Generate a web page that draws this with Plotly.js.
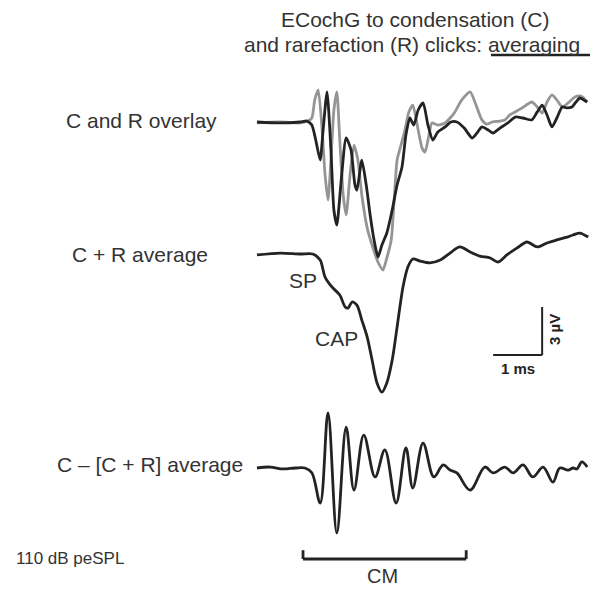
<!DOCTYPE html>
<html>
<head>
<meta charset="utf-8">
<script src="https://cdn.plot.ly/plotly-3.0.1.min.js"></script>
<style>html,body{margin:0;padding:0;background:#fff;}#chart{width:600px;height:590px;}</style>
</head>
<body>
<div id="chart"></div>
<script>
// ---- Data (time in ms from trace start, amplitude in µV relative to each trace's baseline) ----
const overlayC_t = [0.04,0.51,0.92,1.06,1.16,1.24,1.33,1.39,1.47,1.55,1.61,1.67,1.76,1.86,1.96,2.04,2.08,2.18,2.27,2.35,2.43,2.51,2.59,2.69,2.80,2.90,3.00,3.08,3.16,3.24,3.33,3.43,3.53,3.63,3.73,3.88,4.00,4.12,4.27,4.43,4.53,4.63,4.76,4.86,5.00,5.16,5.31,5.47,5.65,5.76,5.86,5.96,6.06,6.16,6.27,6.37,6.47,6.55,6.63,6.71,6.78];
const overlayC_v = [0.0,-0.06,0,0.06,-0.19,-1.13,-2.38,-0.5,1.88,-1.75,-5.5,-6.44,-3.63,-1.0,-1.75,-3.94,-4.25,-2.38,-3.94,-5.81,-7.38,-8.44,-7.69,-6.94,-5.5,-3.94,-2.81,-0.81,0.25,-0.19,0.75,1.19,-0.19,-1.13,-0.63,-0.31,0,0,-0.38,-1.0,-0.69,-0.31,-0.5,-0.69,-0.38,-0.06,0.31,0.25,0.13,0.63,1.06,0.44,-0.31,0.25,0.94,0.88,0.94,1.25,1.5,1.38,1.25];

const overlayR_t = [0.04,0.51,0.92,1.08,1.16,1.22,1.29,1.37,1.43,1.49,1.55,1.61,1.67,1.73,1.80,1.86,1.94,2.02,2.10,2.18,2.29,2.39,2.51,2.61,2.69,2.78,2.84,2.90,2.98,3.06,3.14,3.22,3.33,3.41,3.47,3.55,3.61,3.73,3.88,4.00,4.08,4.22,4.39,4.51,4.63,4.73,4.84,5.00,5.10,5.20,5.31,5.45,5.65,5.76,5.86,5.96,6.06,6.16,6.27,6.39,6.53,6.63,6.69,6.78];
const overlayR_v = [-0.06,0,-0.06,0.06,0.25,1.38,2.0,-0.5,-3.31,-4.88,-2.38,0.75,1.88,-1.13,-4.56,-5.81,-3.31,-1.44,-2.38,-4.56,-6.63,-7.69,-8.75,-9.25,-8.5,-7.38,-4.88,-2.38,-1.44,-0.5,0.63,1.06,-0.5,-1.63,-1.88,-0.81,-0.06,-0.19,-0.06,0.31,0.63,1.38,1.88,1.06,0.13,-0.13,0,0.06,0.13,0.44,0.63,0.88,1.25,0.94,0.56,1.25,1.69,1.38,0.94,1.19,1.56,1.63,1.56,1.25];

const sum_t = [0.04,0.51,0.92,1.18,1.33,1.43,1.57,1.73,1.84,1.90,1.98,2.08,2.18,2.29,2.39,2.49,2.59,2.69,2.80,2.90,3.02,3.12,3.22,3.37,3.57,3.78,3.98,4.18,4.39,4.59,4.80,4.96,5.14,5.35,5.55,5.76,5.96,6.16,6.37,6.49,6.63,6.80];
const sum_v = [-0.06,0.06,0,0,-0.38,-1.44,-2.06,-2.56,-3.31,-3.38,-3.0,-3.19,-4.13,-5.19,-6.63,-8.06,-8.63,-8.06,-6.63,-4.56,-2.06,-0.81,-0.31,-0.44,-0.56,-0.38,0.06,0.44,0.13,-0.13,-0.25,-0.5,-0.06,0.38,0.75,0.44,0.69,0.88,1.06,1.19,1.31,1.06];

const diff_t = [0.04,0.31,0.57,0.82,1.02,1.16,1.33,1.49,1.67,1.86,2.02,2.22,2.45,2.65,2.88,3.08,3.22,3.43,3.65,3.84,3.98,4.12,4.39,4.69,4.86,5.10,5.27,5.47,5.67,5.88,6.08,6.22,6.39,6.49,6.57,6.67,6.78];
const diff_v = [0,0.06,-0.06,0,0,-0.3,-2.19,3.44,-4.06,2.56,-1.38,2.06,-0.56,1.13,-2.19,1.25,-1.25,1.56,-0.56,0.19,-0.13,-0.31,-1.38,0.06,-0.31,0.06,-0.31,0.19,-0.56,0.06,-0.88,0,-0.13,0,-0.06,0.38,0.06];

const traceLabels = ["C and R overlay", "C + R average", "C \u2013 [C + R] average"];
const scaleBarMs = 1;     // ms
const scaleBarUV = 3;     // µV
const cmWindow = [0.98, 4.31]; // ms, extent of CM bracket

// ---- Layout helpers ----
const W = 600, H = 590;
const pxPerMs = 49, pxPerUV = 16, t0px = 255;
const xRange = [-t0px / pxPerMs, (W - t0px) / pxPerMs];
const yRange = [0, H / pxPerUV];
const base = { overlay: (H - 122) / pxPerUV, sum: (H - 254) / pxPerUV, diff: (H - 468) / pxPerUV };
const off = (arr, b) => arr.map(v => v + b);
const px = x => x / W, py = y => 1 - y / H;

const black = '#232323', gray = '#959595', lw = 2.8;
const lineOpts = (c, s) => ({ color: c, width: lw, shape: 'spline', smoothing: s });

const traces = [
  { x: overlayR_t, y: off(overlayR_v, base.overlay), mode: 'lines', line: lineOpts(gray, 0.6), name: 'R', hoverinfo: 'skip' },
  { x: overlayC_t, y: off(overlayC_v, base.overlay), mode: 'lines', line: lineOpts(black, 0.6), name: 'C', hoverinfo: 'skip' },
  { x: sum_t, y: off(sum_v, base.sum), mode: 'lines', line: lineOpts(black, 0.8), name: 'C+R', hoverinfo: 'skip' },
  { x: diff_t, y: off(diff_v, base.diff), mode: 'lines', line: lineOpts(black, 1.0), name: 'C-[C+R]', hoverinfo: 'skip' }
];

const sbT = 4.86, sbV = (H - 355) / pxPerUV;
const cmV = (H - 559) / pxPerUV, cmTick = 0.55;
const shapes = [
  { type: 'line', xref: 'x', yref: 'y', x0: sbT, x1: sbT + scaleBarMs, y0: sbV, y1: sbV, line: { color: black, width: 2 } },
  { type: 'line', xref: 'x', yref: 'y', x0: sbT + scaleBarMs, x1: sbT + scaleBarMs, y0: sbV, y1: sbV + scaleBarUV, line: { color: black, width: 2 } },
  { type: 'line', xref: 'x', yref: 'y', x0: cmWindow[0], x1: cmWindow[1], y0: cmV, y1: cmV, line: { color: black, width: 2.8 } },
  { type: 'line', xref: 'x', yref: 'y', x0: cmWindow[0], x1: cmWindow[0], y0: cmV, y1: cmV + cmTick, line: { color: black, width: 2.8 } },
  { type: 'line', xref: 'x', yref: 'y', x0: cmWindow[1], x1: cmWindow[1], y0: cmV, y1: cmV + cmTick, line: { color: black, width: 2.8 } },
  { type: 'line', xref: 'paper', yref: 'paper', x0: px(491), x1: px(590), y0: py(55), y1: py(55), line: { color: black, width: 2.5 } }
];

const f = (s, c, extra) => Object.assign({ family: 'Liberation Sans, Arial, sans-serif', size: s, color: c || '#333' }, extra || {});
const ann = (text, x, y, opts) => Object.assign({ text: text, xref: 'paper', yref: 'paper', x: px(x), y: py(y), showarrow: false, xanchor: 'center', yanchor: 'middle', font: f(21) }, opts || {});

const annotations = [
  ann('ECochG to condensation (C)', 415, 19, { font: f(21) }),
  ann('and rarefaction (R) clicks: averaging', 412, 44, { font: f(21) }),
  ann(traceLabels[0], 141, 121),
  ann(traceLabels[1], 140, 254),
  ann(traceLabels[2], 150, 464),
  ann('110 dB peSPL', 70, 558, { font: f(17) }),
  ann('SP', 303, 280),
  ann('CAP', 336, 338),
  ann('1 ms', 518, 368, { font: f(15, '#222', { weight: 'bold' }) }),
  ann('3 \u00b5V', 554, 330, { font: f(15, '#222', { weight: 'bold' }), textangle: -90 }),
  ann('CM', 382, 576, { font: f(20) })
];

const layout = {
  width: W, height: H,
  margin: { l: 0, r: 0, t: 0, b: 0, pad: 0 },
  paper_bgcolor: '#fff', plot_bgcolor: '#fff',
  showlegend: false,
  xaxis: { range: xRange, visible: false, fixedrange: true },
  yaxis: { range: yRange, visible: false, fixedrange: true },
  shapes: shapes,
  annotations: annotations
};

Plotly.newPlot('chart', traces, layout, { displayModeBar: false, staticPlot: true });
</script>
</body>
</html>
